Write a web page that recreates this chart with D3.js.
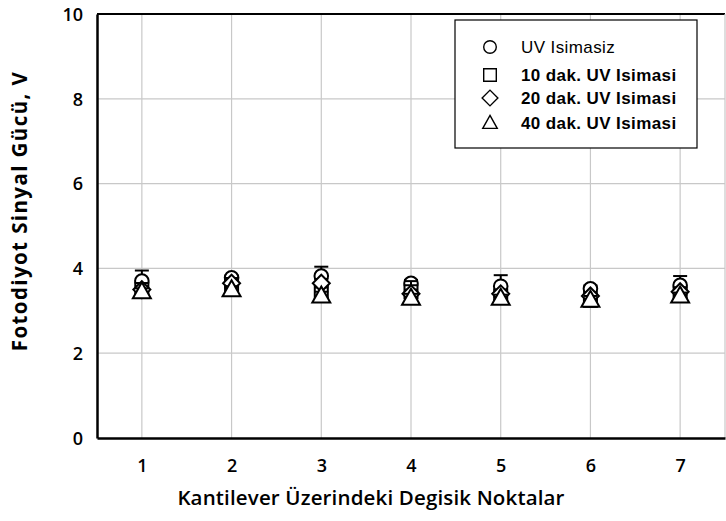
<!DOCTYPE html>
<html>
<head>
<meta charset="utf-8">
<script src="https://cdn.jsdelivr.net/npm/d3@7"></script>
<style>
  body { margin: 0; background: #fff; }
</style>
</head>
<body>
<div id="chart"></div>
<script>
// data
var points = [1, 2, 3, 4, 5, 6, 7];
var yTicks = [0, 2, 4, 6, 8, 10];
var seriesNames = ["UV Isimasiz", "10 dak. UV Isimasi", "20 dak. UV Isimasi", "40 dak. UV Isimasi"];
var uv0  = [3.70, 3.78, 3.82, 3.65, 3.58, 3.52, 3.60];
var uv0Err = [0.25, 0.05, 0.22, 0.08, 0.26, 0.08, 0.22];
var uv10 = [3.50, 3.62, 3.45, 3.45, 3.35, 3.25, 3.40];
var uv10Err = [0.10, 0.08, 0.15, 0.25, 0.10, 0.15, 0.10];
var uv20 = [3.50, 3.65, 3.65, 3.40, 3.40, 3.35, 3.45];
var uv20Err = [0.08, 0.08, 0.10, 0.10, 0.08, 0.08, 0.08];
var uv40 = [3.45, 3.50, 3.35, 3.30, 3.30, 3.25, 3.35];
var uv40Err = [0.08, 0.08, 0.10, 0.10, 0.08, 0.10, 0.08];

var series = [
  {name: seriesNames[0], vals: uv0,  err: uv0Err,  shape: "circle"},
  {name: seriesNames[1], vals: uv10, err: uv10Err, shape: "square"},
  {name: seriesNames[2], vals: uv20, err: uv20Err, shape: "diamond"},
  {name: seriesNames[3], vals: uv40, err: uv40Err, shape: "triangle"}
];

var W = 726, H = 521;
var margin = {top: 14, right: 1, bottom: 83, left: 97};
var width = W - margin.left - margin.right;
var height = H - margin.top - margin.bottom;

var svg = d3.select("#chart").append("svg")
    .attr("width", W).attr("height", H)
  .append("g")
    .attr("transform", "translate(" + margin.left + "," + margin.top + ")");

var x = d3.scaleLinear().domain([0.5, 7.5]).range([0, width]);
var y = d3.scaleLinear().domain([0, 10]).range([height, 0]);

// grid
svg.selectAll("line.vgrid").data(points).enter().append("line")
    .attr("x1", d => x(d)).attr("x2", d => x(d))
    .attr("y1", 0).attr("y2", height)
    .attr("stroke", "#c8c8c8").attr("stroke-width", 1.2);
svg.selectAll("line.hgrid").data(yTicks.slice(1, -1)).enter().append("line")
    .attr("x1", 0).attr("x2", width)
    .attr("y1", d => y(d)).attr("y2", d => y(d))
    .attr("stroke", "#c8c8c8").attr("stroke-width", 1.2);

// frame
svg.append("line").attr("x1", 0).attr("x2", width).attr("y1", 0).attr("y2", 0)
    .attr("stroke", "#000").attr("stroke-width", 2);
svg.append("line").attr("x1", width).attr("x2", width).attr("y1", 0).attr("y2", height)
    .attr("stroke", "#c8c8c8").attr("stroke-width", 1.2);

// axes
var xAxis = svg.append("g").attr("transform", "translate(0," + height + ")")
    .call(d3.axisBottom(x).tickValues(points).tickFormat(d3.format("d")).tickSize(0).tickPadding(21));
var yAxis = svg.append("g")
    .call(d3.axisLeft(y).tickValues(yTicks).tickFormat(d3.format("d")).tickSize(0).tickPadding(14));
[xAxis, yAxis].forEach(function(a) {
  a.select(".domain").attr("stroke", "#000").attr("stroke-width", 2.5);
  a.selectAll("text")
    .style("font-family", "'Open Sans', sans-serif")
    .style("font-size", "18px")
    .style("font-weight", "600")
    .attr("fill", "#000");
});
yAxis.selectAll("text").attr("dy", "0.35em");

// axis titles
svg.append("text")
    .attr("x", width / 2 - 40).attr("y", height + 67)
    .attr("text-anchor", "middle")
    .style("font-family", "'Open Sans', sans-serif")
    .style("font-size", "20.5px")
    .style("font-weight", "600")
    .style("letter-spacing", "0.15px")
    .text("Kantilever Üzerindeki Degisik Noktalar");
svg.append("text")
    .attr("transform", "translate(" + (-70) + "," + (height / 2 - 15) + ") rotate(-90)")
    .attr("text-anchor", "middle")
    .style("font-family", "'Open Sans', sans-serif")
    .style("font-size", "20.5px")
    .style("font-weight", "700")
    .style("letter-spacing", "1.4px")
    .text("Fotodiyot Sinyal Gücü, V");

// marker shapes
function shapePath(shape, s) {
  if (shape === "circle") return d3.symbol().type(d3.symbolCircle).size(Math.PI * s * s)();
  if (shape === "square") return "M" + (-s) + "," + (-s) + "H" + s + "V" + s + "H" + (-s) + "Z";
  if (shape === "diamond") return "M0," + (-s * 1.25) + "L" + (s * 1.25) + ",0L0," + (s * 1.25) + "L" + (-s * 1.25) + ",0Z";
  return "M0," + (-s * 1.2) + "L" + (s * 1.15) + "," + (s * 0.85) + "L" + (-s * 1.15) + "," + (s * 0.85) + "Z";
}
var markerSize = {circle: 6.8, square: 6.5, diamond: 6.8, triangle: 7.8};

// error bars then markers, per series
series.forEach(function(s) {
  var g = svg.append("g");
  var rows = points.map((p, i) => ({p: p, v: s.vals[i], e: s.err[i]}));
  g.selectAll("line.err").data(rows).enter().append("line")
      .attr("x1", d => x(d.p)).attr("x2", d => x(d.p))
      .attr("y1", d => y(d.v + d.e)).attr("y2", d => y(d.v - d.e))
      .attr("stroke", "#000").attr("stroke-width", 2);
  g.selectAll("line.capT").data(rows).enter().append("line")
      .attr("x1", d => x(d.p) - 7).attr("x2", d => x(d.p) + 7)
      .attr("y1", d => y(d.v + d.e)).attr("y2", d => y(d.v + d.e))
      .attr("stroke", "#000").attr("stroke-width", 2);
  g.selectAll("line.capB").data(rows).enter().append("line")
      .attr("x1", d => x(d.p) - 7).attr("x2", d => x(d.p) + 7)
      .attr("y1", d => y(d.v - d.e)).attr("y2", d => y(d.v - d.e))
      .attr("stroke", "#000").attr("stroke-width", 2);
  g.selectAll("path.mk").data(rows).enter().append("path")
      .attr("transform", d => "translate(" + x(d.p) + "," + y(d.v) + ")")
      .attr("d", shapePath(s.shape, markerSize[s.shape]))
      .attr("fill", "#fff").attr("stroke", "#000").attr("stroke-width", 2);
});

// legend
var lg = svg.append("g").attr("transform", "translate(" + (455 - margin.left) + "," + (20 - margin.top) + ")");
lg.append("rect").attr("width", 242).attr("height", 128)
    .attr("fill", "#fff").attr("stroke", "#000").attr("stroke-width", 1.2);
var rowY = [27, 55, 78, 103];
series.forEach(function(s, i) {
  lg.append("path")
      .attr("transform", "translate(35," + rowY[i] + ")")
      .attr("d", shapePath(s.shape, 6.3))
      .attr("fill", "#fff").attr("stroke", "#000").attr("stroke-width", 1.4);
  lg.append("text")
      .attr("x", 66).attr("y", rowY[i]).attr("dy", "0.36em")
      .style("font-family", "'Liberation Sans', Arial, sans-serif")
      .style("font-size", "17px")
      .style("font-weight", i === 0 ? "normal" : "bold")
      .style("letter-spacing", "0.4px")
      .text(s.name);
});
</script>
</body>
</html>
